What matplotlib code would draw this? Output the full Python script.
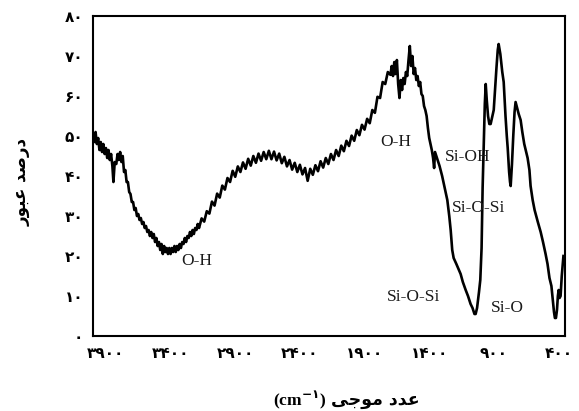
import matplotlib.pyplot as plt

# FTIR spectrum
wavenumber = [
    4000, 3990, 3980, 3970, 3960, 3950, 3940, 3930, 3920, 3910,
    3900, 3890, 3880, 3870, 3860, 3850, 3842, 3832, 3820, 3810,
    3800, 3790, 3780, 3770, 3760, 3750, 3740, 3730, 3720, 3710,
    3700, 3690, 3680, 3670, 3660, 3650, 3640, 3630, 3620, 3610,
    3600, 3590, 3580, 3570, 3560, 3550, 3540, 3530, 3520, 3510,
    3500, 3490, 3480, 3470, 3460, 3450, 3440, 3430, 3420, 3410,
    3400, 3390, 3380, 3370, 3360, 3350, 3340, 3330, 3320, 3310,
    3300, 3290, 3280, 3270, 3260, 3250, 3240, 3230, 3220, 3210,
    3200, 3190, 3180, 3160, 3140, 3120, 3100, 3080, 3060, 3040,
    3020, 3000, 2980, 2960, 2940, 2920, 2900, 2880, 2860, 2840,
    2820, 2800, 2780, 2760, 2740, 2720, 2700, 2680, 2660, 2640,
    2620, 2600, 2580, 2560, 2540, 2520, 2500, 2480, 2460, 2440,
    2420, 2400, 2380, 2360, 2340, 2320, 2300, 2280, 2260, 2240,
    2220, 2200, 2180, 2160, 2140, 2120, 2100, 2080, 2060, 2040,
    2020, 2000, 1980, 1960, 1940, 1920, 1900, 1880, 1860, 1840,
    1820, 1800, 1780, 1760, 1740, 1720, 1700, 1690, 1680, 1670,
    1660, 1650, 1640, 1630, 1620, 1610, 1600, 1590, 1580, 1570,
    1560, 1550, 1540, 1530, 1520, 1510, 1500, 1490, 1480, 1470,
    1460, 1450, 1440, 1430, 1420, 1410, 1400, 1390, 1380, 1370,
    1362, 1355, 1340, 1320, 1300, 1280, 1260, 1245, 1234, 1222,
    1211, 1190, 1170, 1157, 1140, 1118, 1100, 1080, 1065, 1050,
    1041, 1030, 1015, 1005, 995, 987, 977, 970, 963, 955,
    945, 935, 925, 915, 901, 890, 880, 870, 863, 850,
    835, 824, 810, 800, 793, 782, 775, 770, 760, 750,
    740, 732, 720, 708, 693, 680, 665, 650, 639, 625,
    616, 600, 585, 560, 538, 520, 500, 485, 470, 455,
    446, 435, 428, 420, 412, 405, 399, 392, 384, 375,
    362,
]
transmittance = [
    50.5, 48.5, 51.0, 48.0, 49.5, 46.5, 48.5, 46.0, 48.0, 45.5,
    47.0, 44.5, 46.5, 44.0, 45.5, 42.5, 38.5, 43.5, 43.0, 45.5,
    44.0, 46.0, 43.5, 45.0, 41.0, 41.5, 38.5, 38.5, 36.0, 35.5,
    33.5, 33.5, 31.5, 32.0, 30.0, 30.5, 29.0, 29.5, 28.0, 28.5,
    27.0, 27.5, 26.0, 26.5, 25.0, 26.0, 24.5, 25.5, 23.5, 24.5,
    22.5, 23.5, 21.5, 23.0, 20.5, 22.5, 21.0, 22.0, 20.5, 22.0,
    20.5, 22.0, 21.0, 22.5, 21.0, 22.5, 21.5, 23.0, 22.0, 23.5,
    23.0, 24.5, 23.5, 25.0, 24.5, 26.0, 25.0, 26.5, 25.5, 27.0,
    26.5, 28.0, 27.0, 29.4, 28.6, 31.2, 30.6, 33.6, 32.6, 35.6,
    34.6, 37.6, 36.6, 39.5, 38.5, 41.3, 39.8, 42.4, 41.0, 43.4,
    41.8, 44.3, 42.6, 45.0, 43.3, 45.6, 43.8, 46.0, 44.2, 46.3,
    44.2, 46.1, 43.9, 45.6, 43.2, 44.8, 42.4, 44.0, 41.6, 43.3,
    41.0, 42.8, 40.4, 42.0, 38.8, 41.8, 40.3, 42.7, 41.2, 43.7,
    42.1, 44.5, 43.0, 45.5, 44.0, 46.5, 45.0, 47.6, 46.2, 48.8,
    47.5, 50.1, 48.8, 51.5, 50.2, 52.8, 51.6, 54.3, 53.2, 56.5,
    55.8, 59.8, 59.5, 63.5, 63.0, 66.0, 65.3, 67.5, 65.0, 68.5,
    65.5, 69.0, 63.0, 59.5, 64.0, 61.5, 64.5, 63.0, 66.0, 65.0,
    69.0, 72.5, 67.5, 70.0, 65.5, 67.0, 64.0, 65.0, 62.5, 63.5,
    60.5, 60.0, 57.5, 56.5, 55.0, 52.0, 49.5, 48.0, 46.5, 44.5,
    42.0, 46.0, 44.5, 42.5, 40.0, 37.0, 34.0, 30.0, 26.5, 21.5,
    19.5, 18.0, 16.5, 15.5, 13.5, 11.5, 10.0, 8.0, 7.0, 5.5,
    5.5, 7.0, 11.0, 14.0, 22.0, 37.0, 50.0, 58.0, 63.0, 59.0,
    55.0, 53.0, 53.0, 54.5, 56.5, 62.0, 67.0, 71.5, 73.0, 70.5,
    66.0, 63.5, 55.0, 50.0, 47.0, 41.0, 38.5, 37.5, 43.0, 50.0,
    56.0, 58.5, 57.0, 55.5, 54.0, 51.0, 48.0, 46.0, 44.5, 41.5,
    37.5, 34.0, 31.5, 28.5, 26.0, 23.5, 20.5, 18.0, 14.5, 12.5,
    9.5, 6.0, 4.5, 4.5, 6.5, 10.0, 11.5, 9.5, 10.0, 15.0,
    20.0,
]

x_ticks = [3900, 3400, 2900, 2400, 1900, 1400, 900, 400]
y_ticks = [0, 10, 20, 30, 40, 50, 60, 70, 80]

band_names = ['O-H', 'O-H', 'Si-OH', 'Si-O-Si', 'Si-O-Si', 'Si-O']
band_wavenumber = [3200, 1661, 1100, 1019, 1522, 795]
band_level = [18.75, 48.5, 44.75, 32, 9.75, 7]

# Persian text, already shaped and in visual order
ylabel_fa = '\uFEAD\uFEEE\uFE92\uFECB \uFEAA\uFEBB\uFEAD\uFEA9'   # درصد عبور
xlabel_fa = '\uFBFD\uFE9F\uFEEE\uFEE3 \uFEA9\uFEAA\uFECB'         # عدد موجی

FA = str.maketrans('0123456789', '\u06F0\u06F1\u06F2\u06F3\u06F4\u06F5\u06F6\u06F7\u06F8\u06F9')


def fa_num(n):
    return str(n).translate(FA)


def draw_graph():
    fig = plt.figure(figsize=(5.79, 4.11), dpi=100)
    ax = fig.add_axes([0.1606, 0.1825, 0.8152, 0.7785])

    ax.plot(wavenumber, transmittance, color='black', linewidth=1.9)

    ax.set_xlim(4000, 350)
    ax.set_ylim(0, 80)
    ax.set_xticks(x_ticks)
    ax.set_xticklabels([fa_num(t) for t in x_ticks])
    ax.set_yticks(y_ticks)
    ax.set_yticklabels([fa_num(t) for t in y_ticks])
    ax.tick_params(length=0, pad=7)
    for lab in ax.get_xticklabels() + ax.get_yticklabels():
        lab.set_fontfamily('DejaVu Sans')
        lab.set_fontweight('bold')
        lab.set_fontsize(11)
    for sp in ax.spines.values():
        sp.set_linewidth(1.5)
        sp.set_color('black')

    for name, wn, lev in zip(band_names, band_wavenumber, band_level):
        ax.text(wn, lev, name, ha='center', va='center', fontsize=12.5,
                family='Liberation Serif', color='#1a1a1a')

    fig.text(22 / 579, 1 - 182 / 411, ylabel_fa, rotation=90, ha='center', va='center',
             fontsize=12, fontweight='bold', family='DejaVu Sans')
    ty = 1 - 400 / 411
    fig.text(326 / 579, ty, '(cm$^{\\mathbf{-\u06F1}}$)', ha='right', va='center',
             fontsize=12.5, fontweight='bold', family='Liberation Serif')
    fig.text(331 / 579, ty, xlabel_fa, ha='left', va='center',
             fontsize=12.5, fontweight='bold', family='DejaVu Sans')

    fig.savefig('out.png', dpi=100)


if __name__ == '__main__':
    draw_graph()
